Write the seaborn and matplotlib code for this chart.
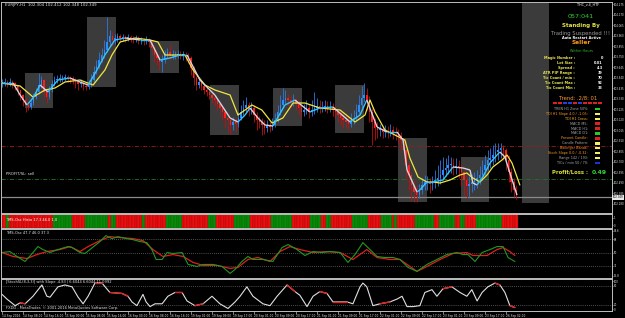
import numpy as np
import pandas as pd
import matplotlib
matplotlib.use("Agg")
import matplotlib.pyplot as plt
import seaborn as sns
from matplotlib.collections import LineCollection
from matplotlib.patches import Rectangle

# ---------------- data ----------------
symbol_title = "EURJPY,H1  102.304 102.412 102.348 102.349"
first_open = 103.49
close = [103.49,103.50,103.48,103.50,103.49,103.46,103.42,103.37,103.32,103.27,
         103.25,103.29,103.35,103.40,103.47,103.52,103.40,103.35,103.42,103.48,
         103.52,103.53,103.54,103.54,103.55,103.54,103.53,103.52,103.50,103.48,
         103.49,103.46,103.45,103.47,103.52,103.60,103.66,103.72,103.77,103.82,
         103.90,103.96,103.92,103.94,103.96,103.94,103.95,103.94,103.95,103.94,
         103.93,103.94,103.92,103.92,103.91,103.93,103.90,103.84,103.77,103.74,
         103.70,103.72,103.77,103.80,103.76,103.77,103.77,103.78,103.77,103.77,
         103.76,103.74,103.64,103.54,103.47,103.50,103.46,103.42,103.40,103.37,
         103.34,103.32,103.28,103.24,103.20,103.14,103.12,103.07,103.10,103.08,
         103.14,103.20,103.24,103.27,103.22,103.24,103.17,103.12,103.10,103.07,
         103.04,103.06,103.05,103.07,103.12,103.20,103.27,103.32,103.34,103.32,
         103.30,103.32,103.28,103.24,103.20,103.22,103.24,103.20,103.22,103.24,
         103.26,103.24,103.25,103.26,103.24,103.25,103.22,103.20,103.17,103.14,
         103.12,103.10,103.08,103.12,103.14,103.20,103.27,103.34,103.37,103.32,
         103.20,103.10,103.04,103.02,103.02,103.00,103.01,103.00,103.02,103.00,
         102.99,102.96,102.92,102.82,102.67,102.57,102.47,102.40,102.37,102.42,
         102.47,102.50,102.50,102.48,102.50,102.52,102.54,102.57,102.62,102.64,
         102.67,102.67,102.65,102.66,102.64,102.60,102.52,102.46,102.48,102.50,
         102.52,102.54,102.57,102.62,102.67,102.72,102.74,102.77,102.80,102.82,
         102.84,102.82,102.72,102.60,102.50,102.42,102.37]
high = [103.53,103.54,103.52,103.54,103.52,103.50,103.47,103.42,103.38,103.34,
        103.30,103.32,103.39,103.44,103.59,103.56,103.53,103.42,103.46,103.52,
        103.56,103.57,103.58,103.57,103.58,103.57,103.56,103.56,103.54,103.52,
        103.53,103.50,103.49,103.52,103.58,103.66,103.72,103.80,103.84,103.92,
        104.15,104.02,104.00,103.98,103.99,103.98,103.98,103.97,103.98,103.97,
        103.96,103.97,103.96,103.95,103.94,103.96,103.94,103.92,103.86,103.80,
        103.76,103.77,103.82,103.84,103.87,103.82,103.81,103.82,103.81,103.81,
        103.80,103.79,103.76,103.66,103.56,103.54,103.52,103.48,103.45,103.42,
        103.39,103.37,103.34,103.30,103.26,103.22,103.18,103.14,103.15,103.14,
        103.20,103.27,103.32,103.35,103.30,103.30,103.27,103.20,103.16,103.14,
        103.12,103.12,103.10,103.14,103.19,103.27,103.37,103.44,103.42,103.38,
        103.36,103.38,103.34,103.32,103.28,103.28,103.32,103.28,103.32,103.40,
        103.34,103.32,103.31,103.32,103.31,103.31,103.29,103.27,103.24,103.22,
        103.20,103.17,103.15,103.19,103.22,103.28,103.37,103.46,103.49,103.44,
        103.36,103.24,103.14,103.10,103.08,103.06,103.07,103.06,103.08,103.06,
        103.05,103.03,103.00,102.92,102.82,102.70,102.60,102.52,102.47,102.48,
        102.54,102.57,102.56,102.54,102.56,102.62,102.67,102.72,102.75,102.74,
        102.77,102.75,102.74,102.74,102.72,102.68,102.62,102.56,102.56,102.58,
        102.60,102.62,102.66,102.72,102.77,102.82,102.84,102.87,102.89,102.89,
        102.89,102.87,102.84,102.77,102.64,102.54,102.47]
low = [103.45,103.46,103.45,103.46,103.44,103.42,103.37,103.32,103.26,103.20,
       103.22,103.23,103.27,103.33,103.38,103.44,103.35,103.29,103.33,103.40,
       103.46,103.49,103.50,103.50,103.51,103.50,103.49,103.48,103.44,103.42,
       103.45,103.42,103.42,103.43,103.45,103.50,103.58,103.64,103.70,103.74,
       103.80,103.87,103.86,103.88,103.90,103.90,103.91,103.90,103.91,103.90,
       103.89,103.90,103.88,103.88,103.87,103.88,103.85,103.77,103.70,103.67,
       103.62,103.60,103.69,103.74,103.72,103.73,103.73,103.74,103.73,103.72,
       103.71,103.69,103.57,103.47,103.42,103.44,103.42,103.38,103.36,103.33,
       103.29,103.26,103.22,103.17,103.12,103.04,102.99,102.98,103.02,103.01,
       103.05,103.12,103.17,103.20,103.16,103.18,103.10,103.02,103.04,102.97,
       102.98,103.00,103.00,103.02,103.05,103.10,103.17,103.24,103.28,103.26,
       103.24,103.26,103.22,103.18,103.14,103.16,103.18,103.14,103.16,103.18,
       103.20,103.19,103.20,103.21,103.19,103.20,103.16,103.14,103.10,103.07,
       103.04,103.04,103.02,103.05,103.08,103.12,103.18,103.24,103.30,103.22,
       103.10,102.87,102.92,102.94,102.96,102.94,102.95,102.94,102.96,102.93,
       102.92,102.88,102.82,102.70,102.52,102.42,102.32,102.30,102.30,102.34,
       102.38,102.42,102.42,102.39,102.42,102.44,102.46,102.48,102.52,102.56,
       102.58,102.59,102.57,102.58,102.54,102.47,102.37,102.34,102.36,102.40,
       102.42,102.44,102.48,102.52,102.57,102.62,102.64,102.67,102.70,102.72,
       102.74,102.72,102.62,102.50,102.40,102.35,102.33]

fast_bar = [0,4.2,6.9,9.5,11.8,14.5,17.5,21.3,25.9,29.7,32.8,36.2,39.2,43.0,46.9,52.6,56.4,60.2,64.0,67.8,
            70.5,75.4,81.1,86.9,89.9,92.6,94.5,97.5,100.2,103.2,107.8,111.6,115.4,117.3,121.1,126.1,132.6,136.4,139.0,142.9,
            146.7,150.5,152.8,154.3,158.1,159.2,161.9,164.2,168.0,171.8,175.6,178.3,179.4,181.0,183.2,185.9,188.6,189.7,191.6,193.5,196.2]
fast_val = [103.49,103.49,103.37,103.27,103.34,103.47,103.40,103.52,103.54,103.50,103.47,103.62,103.77,103.92,103.94,103.92,103.92,103.72,103.74,103.77,
            103.77,103.52,103.37,103.14,103.10,103.17,103.24,103.14,103.07,103.06,103.27,103.32,103.24,103.20,103.24,103.25,103.10,103.17,103.32,103.05,
            103.00,103.00,102.92,102.62,102.40,102.42,102.50,102.50,102.52,102.65,102.64,102.62,102.49,102.47,102.55,102.69,102.77,102.80,102.75,102.59,102.37]
slow_bar = [0,6.9,11.8,16.4,20.2,24.0,29.7,34.7,39.2,41.9,45.0,50.7,56.4,59.4,62.1,65.9,69.7,72.8,77.3,81.1,
            86.9,89.9,92.6,95.2,99.0,102.9,107.0,110.9,115.4,121.1,128.8,134.5,138.3,140.2,142.1,145.9,149.7,153.5,155.4,158.5,
            161.9,164.2,166.9,170.7,174.5,177.1,179.4,182.1,184.8,187.0,190.5,192.4,194.3,197.3]
slow_val = [103.49,103.46,103.35,103.42,103.44,103.50,103.52,103.47,103.62,103.77,103.90,103.94,103.92,103.90,103.77,103.77,103.77,103.62,103.47,103.42,
            103.37,103.17,103.22,103.27,103.22,103.09,103.14,103.29,103.29,103.24,103.22,103.10,103.17,103.32,103.20,103.02,102.97,102.92,102.74,102.55,
            102.50,102.50,102.49,102.52,102.57,102.59,102.54,102.50,102.57,102.65,102.72,102.77,102.69,102.47]

box_start = [8.8, 32.4, 56.4, 79.2, 103.2, 126.9, 150.9, 174.9, 198.1]
box_end = [19.4, 43.4, 67.4, 90.3, 114.3, 137.9, 161.9, 185.5, 208.4]
box_high = [103.59, 104.15, 103.91, 103.47, 103.44, 103.47, 102.94, 102.75, 104.30]
box_low = [103.24, 103.45, 103.59, 102.97, 103.06, 102.99, 102.30, 102.30, 102.29]

level_red = 102.86
level_green = 102.53
last_price = 102.345

histo_runs = [("R",2),("G",1),("R",17),("G",7),("R",5),("G",9),("R",1),("G",2),("R",10),("G",1),
              ("R",8),("G",6),("R",10),("G",3),("R",7),("G",6),("R",8),("G",8),("R",7),("G",4),
              ("R",2),("G",2),("R",8),("G",6),("R",5),("G",4),("R",1),("G",1),("R",7),("G",7),
              ("R",2),("G",6),("R",2),("G",2),("R",4),("G",10),("R",6)]

tms_g_bar = [0,3.0,5.7,8.8,11.8,13.7,15.6,18.3,21.3,25.1,26.7,29.7,31.6,33.5,37.3,39.6,41.9,44.2,47.6,49.9,
             52.6,55.2,57.1,58.7,61.0,62.9,65.1,68.6,70.9,74.3,76.6,80.4,83.8,86.9,88.8,91.4,93.7,95.6,99.4,103.2,
             106.7,109.0,112.4,115.4,118.5,121.9,125.0,128.8,131.8,134.5,137.5,140.2,142.9,145.9,149.0,151.6,154.7,158.1,161.9,165.7,
             169.5,173.3,175.6,177.5,180.2,182.9,185.9,188.6,190.9,192.8,195.4]
tms_g_val = [50.0,51.3,44.7,38.0,50.0,58.0,54.0,50.0,54.0,58.0,56.7,50.0,48.7,54.0,64.7,72.7,68.7,71.3,68.7,67.3,
             64.7,63.3,54.0,40.7,40.7,50.0,48.7,50.0,34.0,31.3,34.0,34.0,31.3,22.0,27.3,38.0,44.7,40.7,40.7,38.0,
             56.7,60.7,54.0,46.0,51.3,50.0,51.3,50.0,36.7,47.3,63.3,54.0,44.7,43.3,43.3,40.7,30.0,24.7,34.0,40.7,
             47.3,50.0,47.3,47.3,38.0,50.0,54.0,58.0,58.0,43.3,38.0]
tms_r_bar = [0,4.2,9.5,13.3,17.1,22.1,25.9,29.7,32.8,37.3,41.1,45.0,49.9,53.7,57.5,61.3,65.1,69.0,72.8,76.6,
             81.9,86.9,89.9,93.7,97.5,102.1,105.9,109.7,113.5,118.5,123.8,128.8,133.7,139.0,142.9,147.8,151.6,155.4,158.1,161.9,
             166.9,171.8,177.1,179.4,184.8,188.6,190.9,193.5,195.4]
tms_r_val = [50.0,44.7,42.0,47.3,51.3,54.0,58.0,51.3,58.0,66.0,71.3,70.0,68.7,66.0,54.0,44.7,47.3,44.7,36.7,32.7,
             32.7,28.7,30.0,40.7,43.3,38.0,51.3,58.0,54.0,50.0,51.3,50.0,40.7,54.0,43.3,40.7,40.7,31.3,24.7,31.3,
             40.7,48.7,50.0,46.0,46.0,54.0,56.7,51.3,46.0]

stoch_bar = [0,1.9,5.0,6.9,8.8,11.8,15.2,17.1,18.3,21.3,24.0,26.7,29.0,30.9,32.8,35.4,38.1,41.1,45.7,48.0,
             49.5,51.4,53.7,54.9,56.4,58.3,61.0,63.2,65.9,68.6,70.5,73.5,76.6,80.0,83.0,86.1,88.8,90.7,93.3,95.6,
             99.4,102.1,104.8,108.6,111.6,113.5,116.2,118.5,121.1,123.8,126.1,131.4,133.7,136.4,137.5,139.0,141.3,144.0,147.8,150.5,
             152.4,154.3,156.6,159.2,161.1,163.8,165.7,168.0,171.4,174.5,177.1,179.0,181.0,182.9,185.1,187.8,189.7,191.6,193.5,195.4]
stoch_val = [53,38,17,26,23,47,83,47,44,77,83,77,44,23,47,89,89,59,56,47,
             29,17,53,29,14,23,23,47,59,59,32,17,23,47,23,8,29,47,77,47,
             23,17,47,83,62,50,14,47,62,56,29,29,23,77,89,77,17,23,29,38,
             47,14,14,17,59,68,47,71,77,59,47,68,32,59,77,89,83,59,17,11]
stoch_red = [(3,4),(15,16),(17,19),(28,29),(31,32),(43,44),(48,49),(50,51),(57,58),(67,68),(75,76),(78,79)]

date_labels = ["14 Sep 2016","14 Sep 08:00","14 Sep 16:00","15 Sep 00:00","15 Sep 08:00","15 Sep 16:00",
               "16 Sep 00:00","16 Sep 08:00","16 Sep 16:00","19 Sep 01:00","19 Sep 09:00","19 Sep 17:00",
               "20 Sep 01:00","20 Sep 09:00","20 Sep 17:00","21 Sep 01:00","21 Sep 09:00","21 Sep 17:00",
               "22 Sep 01:00","22 Sep 09:00","22 Sep 17:00","23 Sep 01:00","23 Sep 09:00","23 Sep 17:00","26 Sep 02:00"]

# ---------------- style ----------------
sns.set_theme(style="dark", rc={"axes.facecolor": "black", "figure.facecolor": "black",
                                 "axes.edgecolor": "#bdbdbd", "axes.grid": False})
plt.rcParams['font.family'] = ['DejaVu Sans']

W, H = 625, 318
fig = plt.figure(figsize=(W / 100, H / 100), dpi=100)
fig.patch.set_facecolor("black")

def rect(top, bottom):
    return [1 / W, 1 - bottom / H, 611 / W, (bottom - top) / H]

XL = (-0.38, 232.4)
ax = fig.add_axes(rect(2, 213))
axs = fig.add_axes(rect(214, 228))
axt = fig.add_axes(rect(229, 278))
axo = fig.add_axes(rect(279, 311))

TXT = "#e6e6e6"
for a in (ax, axs, axt, axo):
    a.set_facecolor("black")
    a.set_xlim(*XL)
    for s in a.spines.values():
        s.set_color("#bdbdbd")
        s.set_linewidth(0.7)
    a.yaxis.tick_right()
    a.tick_params(axis="y", colors=TXT, labelsize=1.9, length=1.0, width=0.4, pad=0.4)
    a.tick_params(axis="x", bottom=False, labelbottom=False)

# ---------------- main price panel ----------------
n = len(close)
bars = np.arange(n)
c = np.array(close)
o = np.array([first_open] + close[:-1])
hi = np.array(high)
lo = np.array(low)
up = c >= o
cols = np.where(up, "#2a8cff", "#ff1c1c")
wick_cols = np.where(up, "#2a7ae0", "#c01010")

for s, e, l, h in zip(box_start, box_end, box_low, box_high):
    ax.add_patch(Rectangle((s, l), e - s, h - l, facecolor="#3b3b3b", edgecolor="none", zorder=1))

ax.axhline(level_red, color="#a01818", lw=0.6, dashes=(5, 2, 1, 2), zorder=2)
ax.axhline(level_green, color="#1e7a1e", lw=0.6, dashes=(5, 2, 1, 2), zorder=2)
ax.axhline(last_price, color="#8a8a8a", lw=0.9, zorder=2)

ax.vlines(bars, lo, hi, colors=wick_cols, lw=0.6, zorder=3)
body = np.maximum(np.abs(c - o), 0.006)
ax.bar(bars, body, bottom=np.minimum(o, c), width=0.55, color=cols, linewidth=0, zorder=3)

fb = np.array(fast_bar)
fv = np.array(fast_val)
segs = [[(fb[i], fv[i]), (fb[i + 1], fv[i + 1])] for i in range(len(fb) - 1)]
seg_cols = ["#39c4f4" if fv[i + 1] >= fv[i] else "#d9d2dc" for i in range(len(fb) - 1)]
ax.add_collection(LineCollection(segs, colors=seg_cols, linewidths=1.0, zorder=5))
sns.lineplot(x=slow_bar, y=slow_val, ax=ax, color="#f2e640", lw=0.9, sort=False, estimator=None, zorder=4)

ax.set_ylim(102.19, 104.30)
yt = [104.275 - 0.105 * k for k in range(20)]
ax.set_yticks(yt)
ax.set_yticklabels([f"{v:.3f}" for v in yt])
ax.set_xlabel("")
ax.set_ylabel("")
ax.text(0.006, 0.995, symbol_title, transform=ax.transAxes, color=TXT, fontsize=2.8, va="top", ha="left")
ax.text(1.5, level_green + 0.025, "PROFIT/SL: sell", color=TXT, fontsize=2.7, va="bottom", ha="left")
ax.text(1.001, last_price, f"{102.349:.3f}", transform=ax.get_yaxis_transform(), color="black",
        fontsize=1.9, va="center", ha="left", bbox=dict(boxstyle="square,pad=0.12", fc="#e8e8e8", ec="none"), zorder=10)

# ---------------- histogram strip ----------------
states = [s for s, k in histo_runs for _ in range(k)]
hcols = ["#e81010" if s == "R" else "#0a8a0a" for s in states]
axs.bar(np.arange(len(states)), np.ones(len(states)), width=1.0, color=hcols,
        edgecolor=["#a00000" if s == "R" else "#006000" for s in states], linewidth=0.25)
axs.set_ylim(0, 1)
axs.set_yticks([0.2, 0.75])
axs.set_yticklabels(["0", "1"])
axs.text(0.008, 0.55, "TMS-Osc Histo 17.3 46.0 1.0", transform=axs.transAxes, color="white",
         fontsize=2.6, va="center", ha="left")

# ---------------- TMS oscillator ----------------
for lv in (68, 50, 32):
    axt.axhline(lv, color="#6a6a6a", lw=0.6, ls=(0, (1, 1.5)))
sns.lineplot(x=tms_r_bar, y=tms_r_val, ax=axt, color="#e01f1f", lw=0.9, sort=False, estimator=None)
sns.lineplot(x=tms_g_bar, y=tms_g_val, ax=axt, color="#1f9a1f", lw=0.8, sort=False, estimator=None)
axt.set_ylim(15.8, 81.6)
axt.set_yticks([18.5, 32, 50, 68, 79])
axt.set_yticklabels(["15.8", "32", "50", "68", "81.6"])
axt.set_xlabel("")
axt.set_ylabel("")
axt.text(0.008, 0.96, "TMS-Osc 47.7 46.0 37.3", transform=axt.transAxes, color=TXT,
         fontsize=2.6, va="top", ha="left")

# ---------------- stochastic ----------------
for lv in (80, 20):
    axo.axhline(lv, color="#6a6a6a", lw=0.6, ls=(0, (1, 1.5)))
sns.lineplot(x=stoch_bar, y=stoch_val, ax=axo, color="#e0e0e0", lw=0.8, sort=False, estimator=None)
for i0, i1 in stoch_red:
    axo.plot(stoch_bar[i0:i1 + 1], stoch_val[i0:i1 + 1], color="#e02020", lw=1.0)
axo.set_ylim(0, 102)
axo.set_yticks([6, 20, 80, 95])
axo.set_yticklabels(["0", "20", "80", "100"])
axo.set_xlabel("")
axo.set_ylabel("")
axo.text(0.008, 0.97, "[StochSL(8,3,3)] with Slope -4.83 | 6.6044 6.6044 11.0992", transform=axo.transAxes,
         color=TXT, fontsize=2.6, va="top", ha="left")
axo.text(0.008, 0.04, "FXDD - MetaTrader, \u00a9 2001-2016 MetaQuotes Software Corp.", transform=axo.transAxes,
         color=TXT, fontsize=2.6, va="bottom", ha="left")
xt = [8 * k for k in range(len(date_labels))]
axo.set_xticks(xt)
axo.set_xticklabels(date_labels)
axo.tick_params(axis="x", bottom=True, labelbottom=True, colors=TXT, labelsize=2.05, length=1.8,
                width=0.4, pad=0.4)
for lab in axo.get_xticklabels():
    lab.set_horizontalalignment("left")

# ---------------- info panel ----------------
def ft(x, y, s, **kw):
    fig.text(x / W, 1 - y / H, s, va="center", **kw)

def sq(x, y, col, w=4, h=3):
    fig.add_artist(Rectangle((x / W, 1 - (y + h / 2) / H), w / W, h / H, transform=fig.transFigure,
                             facecolor=col, edgecolor="none"))

ft(588, 4, "THC_v.4_HTF", color="white", fontsize=2.4, ha="center")
ft(581, 16, "057:041", color="#2fd02f", fontsize=4.6, ha="center")
ft(581, 25, "Standing By", color="#e4e44c", fontsize=4.0, ha="center", fontweight="bold")
ft(581, 33, "Trading Suspended !!!", color="#9a9a9a", fontsize=3.8, ha="center")
ft(581, 38, "Auto Restart Active", color="white", fontsize=2.5, ha="center", fontweight="bold")
ft(581, 43, "Seller", color="#ff9a1a", fontsize=4.2, ha="center", fontweight="bold")
ft(581, 51, "Within Hours", color="#2cc02c", fontsize=2.5, ha="center")

row_labels = ["Magic Number :", "Lot Size :", "Spread :", "ATR PIP Range :", "Tic Count / min :",
              "Tic Count Max :", "Tic Count Min :"]
row_values = ["0", "0.01", "4.3", "39", "70", "92", "33"]
for k, (lab, val) in enumerate(zip(row_labels, row_values)):
    y = 58 + 5 * k
    ft(575, y, lab, color="#e8e450", fontsize=2.5, ha="right", fontweight="bold")
    ft(603, y, val, color="white", fontsize=2.5, ha="right", fontweight="bold")

ft(578, 98, "Trend: .2/8: 01", color="#ff9a30", fontsize=3.8, ha="center")
trend_cols = ["#e02020", "#e02020", "#2040e0", "#2040e0", "#e02020", "#2040e0", "#e02020", "#e02020",
              "#e02020", "#e02020"]
for k, col in enumerate(trend_cols):
    sq(553 + 5 * k, 103, col, w=4, h=2.5)

ind_labels = ["TREN H1 Zone 50%:", "TDI H1 Slope 4.0 / -1.05:", "TDI H1 Cross:", "MACD M5:", "MACD H1:",
              "MACD D1:", "Present Candle:", "Candle Pattern:", "Bollinger Bands:", "Stoch Slope 0.0 / -0.32:",
              "Range 142 / 193:", "TICs / min 50 / 70:"]
ind_text_cols = ["#a8a8a8", "#ff9a20", "#ffb030", "#a8a8a8", "#a8a8a8", "#a8a8a8", "#ff9a20", "#a8a8a8",
                 "#ff9a20", "#ff9a20", "#a8a8a8", "#a8a8a8"]
ind_sq_cols = ["#22cc22", "#f4f060", "#f4f060", "#e02020", "#e02020", "#22cc22", "#e02020", "#f4f060",
               "#f4f060", "#f4f060", "#f4f060", "#2030d0"]
for k, (lab, tc, scol) in enumerate(zip(ind_labels, ind_text_cols, ind_sq_cols)):
    y = 109 + 4.9 * k
    ft(588, y, lab, color=tc, fontsize=2.4, ha="right")
    sq(595, y, scol, w=5, h=2.5)

ft(570, 172, "Profit/Loss :", color="#d8e040", fontsize=3.8, ha="center", fontweight="bold")
ft(607, 172, "0.49", color="#38d838", fontsize=4.4, ha="right", fontweight="bold")

fig.savefig("out.png", dpi=100, facecolor="black")
